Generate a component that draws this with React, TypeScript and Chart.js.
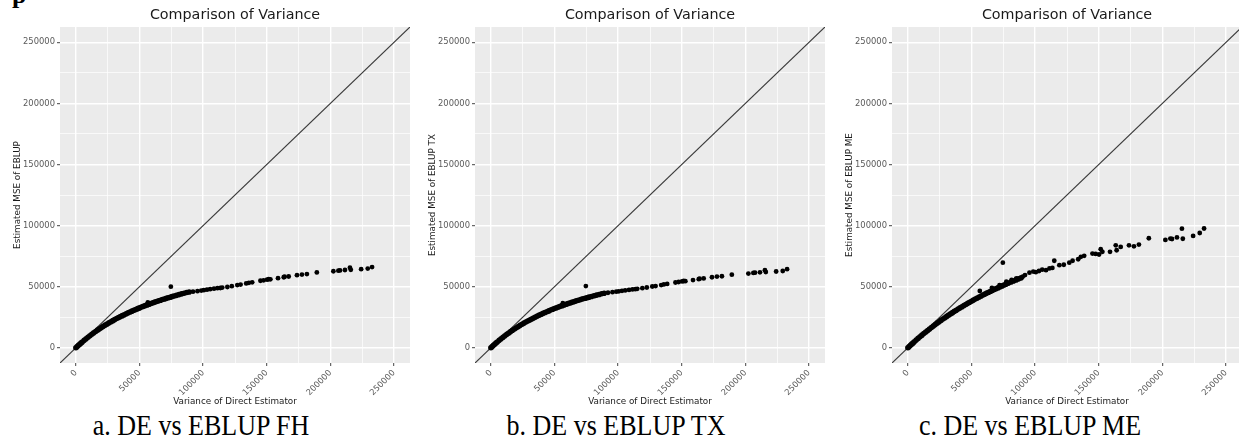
import React, { useEffect, useRef } from "react";
import { Chart, registerables } from "chart.js";

Chart.register(...registerables);
Chart.defaults.font.family = "'DejaVu Sans', sans-serif";

// ---------- data ----------
const axisMin = -12500;
const axisMax = 262500;
const tickValues = [0, 25000, 50000, 75000, 100000, 125000, 150000, 175000, 200000, 225000, 250000];

const denseX = [0, 1000, 2000, 3000, 4000, 5000, 6500, 8000, 9500, 11000, 12500, 14000, 15500, 17000, 18500, 20000, 21500, 23000, 24500, 26000, 27500, 29000, 30500, 32000, 33500, 35000, 36500, 38000, 39500, 41000, 42500, 44000, 45500, 47000, 48500, 50000, 51500, 53000, 54500, 56000, 57500, 59000, 60500, 62000, 63500, 65000, 66500, 68000, 69500, 71000, 72500, 74000, 75500, 77000, 79000, 81000, 83000, 85000, 87000, 89000];
const denseFH = [0, 989, 1958, 2907, 3836, 4747, 6079, 7371, 8626, 9844, 11030, 12180, 13300, 14390, 15450, 16480, 17490, 18470, 19420, 20360, 21260, 22150, 23020, 23860, 24680, 25490, 26270, 27040, 27800, 28530, 29250, 29950, 30640, 31310, 31970, 32610, 33240, 33860, 34470, 35070, 35650, 36220, 36780, 37330, 37870, 38390, 38910, 39420, 39920, 40410, 40890, 41370, 41830, 42290, 42880, 43470, 44040, 44590, 45140, 45670];
const denseTX = [0, 989, 1955, 2903, 3821, 4735, 6060, 7343, 8588, 9797, 10970, 12110, 13210, 14290, 15330, 16350, 17330, 18300, 19240, 20150, 21040, 21900, 22750, 23570, 24380, 25160, 25930, 26670, 27410, 28120, 28810, 29500, 30160, 30820, 31460, 32080, 32690, 33290, 33870, 34450, 35010, 35560, 36100, 36620, 37140, 37650, 38150, 38640, 39120, 39590, 40050, 40510, 40950, 41390, 41960, 42520, 43060, 43600, 44120, 44620];
const denseME = [0, 994, 1975, 2945, 3902, 4848, 6246, 7619, 8968, 10290, 11590, 12870, 14130, 15370, 16580, 17780, 18960, 20110, 21250, 22370, 23470, 24550, 25620, 26670, 27700, 28720, 29720, 30710, 31680, 32640, 33580, 34510, 35430, 36330, 37220, 38100, 38970, 39820, 40660, 41480, 42300, 43110, 43900, 44690, 45460, 46220, 46980, 47720, 48450, 49180, 49890, 50600, 51290, 51980, 52890, 53780, 54650, 55510, 56360, 57190];

const sparseX = [92000, 95500, 98500, 100500, 103000, 105500, 108500, 111200, 113500, 115000, 119000, 122500, 126800, 129400, 133800, 135900, 138500, 145000, 147500, 150200, 151500, 152800, 158800, 163300, 164000, 167200, 173700, 177600, 181500, 189300, 202300, 206200, 207500, 211400, 215300, 216000, 224100, 229300, 232700];
const sparseFH = [45900, 46300, 46800, 47100, 47500, 47900, 48300, 48700, 48900, 49200, 49700, 50400, 51300, 51700, 52600, 53100, 53500, 54800, 55200, 55700, 56100, 56000, 56900, 57700, 58100, 58300, 59400, 59900, 60300, 61600, 62600, 63100, 63300, 63600, 65500, 63800, 64300, 64800, 66000];
const sparseTX = [45000, 45500, 45900, 46200, 46600, 46900, 47300, 47700, 47900, 48200, 48700, 49300, 50100, 50500, 51300, 51800, 52200, 53400, 53800, 54300, 54600, 54500, 55400, 56100, 56500, 56700, 57700, 58200, 58500, 59800, 60700, 61200, 61400, 61700, 63500, 61900, 62400, 62800, 64300];
const sparseME = [59500, 61400, 62300, 61800, 62800, 63900, 63500, 64900, 65300, 71200, 67600, 67900, 69600, 71200, 72400, 74400, 75200, 77100, 76800, 76300, 80600, 78500, 78500, 83800, 79800, 82500, 83800, 83000, 84400, 89600, 88200, 89300, 89000, 90300, 97400, 89200, 91500, 93900, 97600];

const outlierX = [56500, 74600];
const outlierFH = [37000, 50000];
const outlierTX = [36500, 50500];
const outlierME = [46500, 69600];

const extraMEX = [66000, 72000, 77300, 81500, 85200, 90300];
const extraMEY = [49000, 51200, 54100, 55600, 56800, 58200];

const plotTitle = "Comparison of Variance";
const xTitle = "Variance of Direct Estimator";
const yTitles = ["Estimated MSE of EBLUP", "Estimated MSE of EBLUP TX", "Estimated MSE of EBLUP ME"];
const captions = ["a. DE vs EBLUP FH", "b. DE vs EBLUP TX", "c. DE vs EBLUP ME"];

// ---------- helpers ----------
const zip = (xs: number[], ys: number[]) => xs.map((x, i) => ({ x, y: ys[i] }));

const bgPlugin = {
  id: "panelBg",
  beforeDraw(chart: any) {
    const { ctx, chartArea } = chart;
    ctx.save();
    ctx.fillStyle = "#EBEBEB";
    ctx.fillRect(chartArea.left, chartArea.top, chartArea.right - chartArea.left, chartArea.bottom - chartArea.top);
    ctx.restore();
  },
};

const titlePlugin = {
  id: "panelTitle",
  afterDraw(chart: any, _args: any, opts: any) {
    const { ctx, chartArea } = chart;
    ctx.save();
    ctx.font = "14.3px 'DejaVu Sans', sans-serif";
    ctx.fillStyle = "#1A1A1A";
    ctx.textAlign = "center";
    ctx.textBaseline = "middle";
    ctx.fillText(opts.text, (chartArea.left + chartArea.right) / 2, 15);
    ctx.restore();
  },
};

const CANVAS_W = 414;
const CANVAS_H = 409;

function makeScale(title: string, isY: boolean) {
  const major = (v: number) => v % 50000 === 0;
  return {
    type: "linear",
    min: axisMin,
    max: axisMax,
    afterBuildTicks: (s: any) => {
      s.ticks = tickValues.map((v) => ({ value: v }));
    },
    afterFit: (s: any) => {
      if (isY) s.width = 60;
      else s.height = 46;
    },
    ticks: {
      autoSkip: false,
      callback: (v: any) => (major(Number(v)) ? String(v) : ""),
      color: "#5A5A5A",
      font: { size: 8.4 },
      padding: 2,
      minRotation: isY ? 0 : 45,
      maxRotation: isY ? 0 : 45,
    },
    grid: {
      color: "#FFFFFF",
      lineWidth: (c: any) => (c.tick && major(c.tick.value) ? 1.4 : 0.7),
      drawTicks: true,
      tickLength: 3,
      tickWidth: 1,
      tickColor: (c: any) => (c.tick && major(c.tick.value) ? "#444444" : "rgba(0,0,0,0)"),
    },
    border: { display: false },
    title: {
      display: true,
      text: title,
      color: "#1A1A1A",
      font: { size: 8.8 },
      padding: isY ? { top: 12, bottom: 0 } : { top: 0, bottom: 2 },
    },
  };
}

function Panel({ idx, left }: { idx: number; left: number }) {
  const ref = useRef<HTMLCanvasElement | null>(null);
  useEffect(() => {
    if (!ref.current) return;
    const denseY = [denseFH, denseTX, denseME][idx];
    const sparseY = [sparseFH, sparseTX, sparseME][idx];
    const outY = [outlierFH, outlierTX, outlierME][idx];
    const pointStyle = {
      backgroundColor: "#000000",
      borderColor: "#000000",
      pointBorderWidth: 0,
    };
    const datasets: any[] = [
      { data: zip(denseX, denseY), ...pointStyle, pointRadius: 2.8 },
      { data: zip(sparseX, sparseY), ...pointStyle, pointRadius: 2.4 },
      { data: zip(outlierX, outY), ...pointStyle, pointRadius: 2.4 },
    ];
    if (idx === 2) {
      datasets.push({ data: zip(extraMEX, extraMEY), ...pointStyle, pointRadius: 2.4 });
    }
    datasets.push({
      data: [
        { x: axisMin, y: axisMin },
        { x: axisMax, y: axisMax },
      ],
      showLine: true,
      borderColor: "#3A3A3A",
      borderWidth: 1.2,
      pointRadius: 0,
      fill: false,
    });
    const chart = new Chart(ref.current, {
      type: "scatter",
      data: { datasets },
      options: {
        animation: false,
        responsive: false,
        maintainAspectRatio: false,
        events: [],
        layout: { padding: { top: 27, left: 0, right: 4, bottom: 0 } },
        plugins: {
          legend: { display: false },
          tooltip: { enabled: false },
          title: { display: false },
          panelTitle: { text: plotTitle },
        } as any,
        scales: {
          x: makeScale(xTitle, false) as any,
          y: makeScale(yTitles[idx], true) as any,
        },
      },
      plugins: [bgPlugin, titlePlugin],
    });
    return () => chart.destroy();
  }, [idx]);
  return (
    <canvas
      ref={ref}
      width={CANVAS_W}
      height={CANVAS_H}
      style={{ position: "absolute", left, top: 0, width: CANVAS_W, height: CANVAS_H }}
    />
  );
}

const panelLefts = [0, 415, 832];
const captionCenters = [201, 616, 1030];

export default function App() {
  return (
    <div
      style={{
        position: "absolute",
        left: 0,
        top: 0,
        width: 1239,
        height: 445,
        overflow: "hidden",
        background: "#FFFFFF",
      }}
    >
      <div
        style={{
          position: "absolute",
          left: 12,
          top: -18,
          fontFamily: "'Liberation Serif', serif",
          fontWeight: "bold",
          fontSize: 26,
          lineHeight: "26px",
          color: "#000",
        }}
      >
        p
      </div>
      {panelLefts.map((l, i) => (
        <Panel key={i} idx={i} left={l} />
      ))}
      {captions.map((c, i) => (
        <div
          key={c}
          style={{
            position: "absolute",
            left: captionCenters[i] - 160,
            width: 320,
            top: 415,
            textAlign: "center",
            fontFamily: "'Liberation Serif', 'Times New Roman', serif",
            fontSize: 26,
            lineHeight: "26px",
            color: "#000",
            whiteSpace: "nowrap",
            transform: "scaleY(1.12)",
            transformOrigin: "center bottom",
          }}
        >
          {c}
        </div>
      ))}
    </div>
  );
}
